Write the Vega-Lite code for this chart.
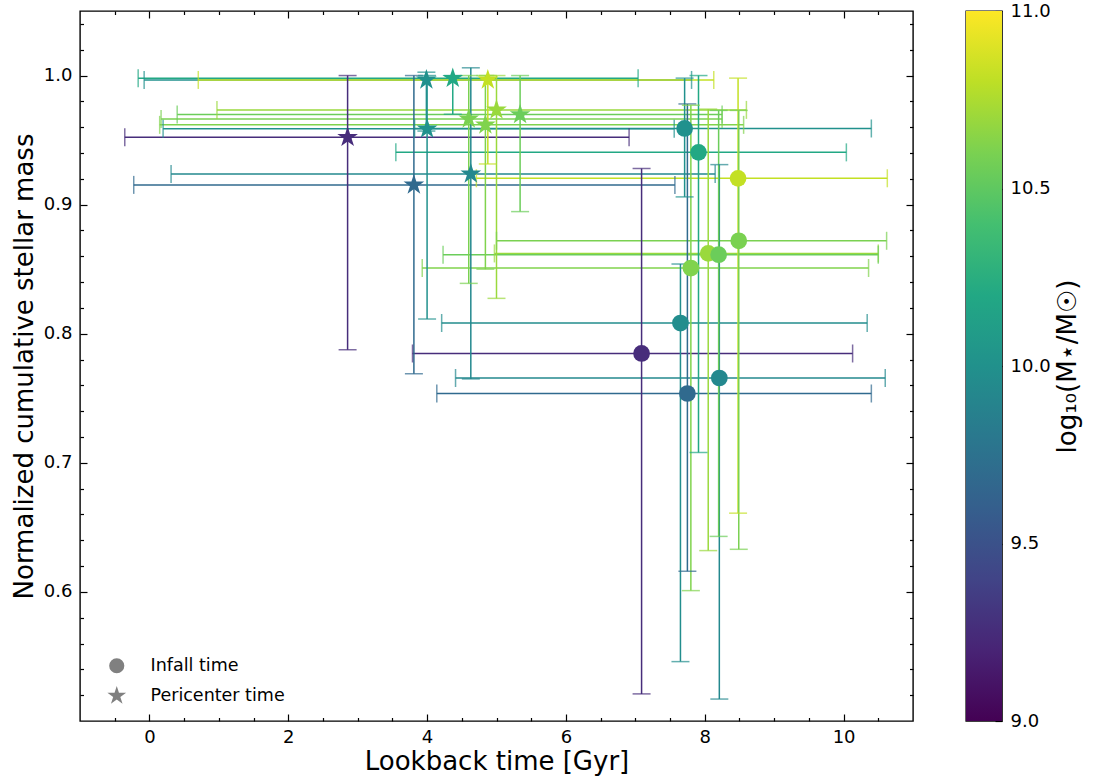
{
  "$schema": "https://vega.github.io/schema/vega-lite/v6.json",
  "padding": {"left": 10, "top": 1, "right": 5, "bottom": 5},
  "background": "white",
  "config": {
    "view": {"stroke": "black", "strokeWidth": 1.4},
    "font": "DejaVu Sans",
    "axis": {
      "labelFont": "DejaVu Sans", "titleFont": "DejaVu Sans",
      "labelFontSize": 18, "titleFontSize": 26, "titleFontWeight": "normal",
      "labelColor": "black", "titleColor": "black", "tickColor": "black",
      "tickWidth": 1.2, "domain": false, "grid": false,
      "labelOverlap": false, "labelFlush": false, "labelBound": false
    }
  },
  "datasets": {
    "sats": [
      {"kind": "Infall time", "t": 7.71, "m": 0.959, "tlo": 3.82, "thi": 10.40, "mlo": 0.906, "mhi": 0.998, "logm": 10.0},
      {"kind": "Infall time", "t": 7.91, "m": 0.9405, "tlo": 3.55, "thi": 10.04, "mlo": 0.708, "mhi": 1.0, "logm": 10.2},
      {"kind": "Infall time", "t": 8.48, "m": 0.9204, "tlo": 4.71, "thi": 10.63, "mlo": 0.661, "mhi": 0.998, "logm": 10.82},
      {"kind": "Infall time", "t": 7.09, "m": 0.7847, "tlo": 3.79, "thi": 10.13, "mlo": 0.521, "mhi": 0.928, "logm": 9.25},
      {"kind": "Infall time", "t": 7.65, "m": 0.8083, "tlo": 4.21, "thi": 10.34, "mlo": 0.546, "mhi": 0.854, "logm": 9.97},
      {"kind": "Infall time", "t": 8.21, "m": 0.7657, "tlo": 4.41, "thi": 10.60, "mlo": 0.517, "mhi": 0.931, "logm": 9.93},
      {"kind": "Infall time", "t": 7.75, "m": 0.7537, "tlo": 4.14, "thi": 10.40, "mlo": 0.616, "mhi": 0.978, "logm": 9.68},
      {"kind": "Infall time", "t": 7.80, "m": 0.8509, "tlo": 3.93, "thi": 10.36, "mlo": 0.601, "mhi": 0.977, "logm": 10.62},
      {"kind": "Infall time", "t": 8.05, "m": 0.8622, "tlo": 4.97, "thi": 10.50, "mlo": 0.632, "mhi": 0.974, "logm": 10.7},
      {"kind": "Infall time", "t": 8.20, "m": 0.8612, "tlo": 4.23, "thi": 10.50, "mlo": 0.643, "mhi": 0.973, "logm": 10.55},
      {"kind": "Infall time", "t": 8.49, "m": 0.872, "tlo": 5.00, "thi": 10.62, "mlo": 0.633, "mhi": 0.973, "logm": 10.6},
      {"kind": "Pericenter time", "t": 2.855, "m": 0.9522, "tlo": -0.355, "thi": 6.91, "mlo": 0.7876, "mhi": 1.0, "logm": 9.25},
      {"kind": "Pericenter time", "t": 3.81, "m": 0.9153, "tlo": -0.226, "thi": 7.57, "mlo": 0.769, "mhi": 1.0, "logm": 9.68},
      {"kind": "Pericenter time", "t": 3.99, "m": 0.9966, "tlo": -0.076, "thi": 7.81, "mlo": 0.957, "mhi": 1.0026, "logm": 10.0},
      {"kind": "Pericenter time", "t": 4.37, "m": 0.9979, "tlo": -0.162, "thi": 7.04, "mlo": 0.970, "mhi": 1.0, "logm": 10.2},
      {"kind": "Pericenter time", "t": 4.875, "m": 0.9966, "tlo": 0.704, "thi": 8.13, "mlo": 0.9315, "mhi": 1.0, "logm": 10.82},
      {"kind": "Pericenter time", "t": 4.00, "m": 0.9587, "tlo": 0.197, "thi": 7.56, "mlo": 0.8114, "mhi": 1.0, "logm": 10.0},
      {"kind": "Pericenter time", "t": 4.63, "m": 0.9238, "tlo": 0.312, "thi": 8.15, "mlo": 0.765, "mhi": 1.006, "logm": 9.93},
      {"kind": "Pericenter time", "t": 4.60, "m": 0.9664, "tlo": 0.168, "thi": 8.25, "mlo": 0.839, "mhi": 1.0, "logm": 10.6},
      {"kind": "Pericenter time", "t": 4.84, "m": 0.9618, "tlo": 0.148, "thi": 8.56, "mlo": 0.850, "mhi": 1.0, "logm": 10.62},
      {"kind": "Pericenter time", "t": 5.00, "m": 0.9734, "tlo": 0.973, "thi": 8.6, "mlo": 0.8274, "mhi": 1.0, "logm": 10.7},
      {"kind": "Pericenter time", "t": 5.34, "m": 0.9698, "tlo": 0.40, "thi": 8.25, "mlo": 0.8946, "mhi": 1.0, "logm": 10.55}
    ],
    "cbar": [
      {"lo": 9, "hi": 11, "x0": 0, "x1": 1}
    ]
  },
  "hconcat": [
    {
      "width": 833,
      "height": 710,
      "data": {"name": "sats"},
      "layer": [
        {
          "mark": {"type": "rule", "strokeWidth": 1.5},
          "encoding": {
            "x": {
              "field": "tlo", "type": "quantitative",
              "scale": {"domain": [-1, 11], "nice": false, "zero": false},
              "axis": {
                "orient": "bottom", "title": "Lookback time [Gyr]",
                "values": [0, 2, 4, 6, 8, 10], "format": "d",
                "tickSize": -7, "labelPadding": 14, "titlePadding": 2
              }
            },
            "x2": {"field": "thi"},
            "y": {
              "field": "m", "type": "quantitative",
              "scale": {"domain": [0.5, 1.05], "nice": false, "zero": false},
              "axis": {
                "orient": "left", "title": "Normalized cumulative stellar mass",
                "values": [0.6, 0.7, 0.8, 0.9, 1.0], "format": ".1f",
                "tickSize": -7, "labelPadding": 15, "titlePadding": 6
              }
            },
            "color": {
              "field": "logm", "type": "quantitative",
              "scale": {"scheme": "viridis", "domain": [9, 11]},
              "legend": null
            }
          }
        },
        {
          "mark": {"type": "rule", "strokeWidth": 1.5},
          "encoding": {
            "x": {
              "field": "t", "type": "quantitative",
              "axis": {"orient": "top", "title": null, "labels": false, "values": [0, 2, 4, 6, 8, 10], "tickSize": -7}
            },
            "y": {
              "field": "mlo", "type": "quantitative",
              "axis": {"orient": "right", "title": null, "labels": false, "values": [0.6, 0.7, 0.8, 0.9, 1.0], "tickSize": -7}
            },
            "y2": {"field": "mhi"},
            "color": {"field": "logm", "type": "quantitative", "legend": null}
          }
        },
        {
          "mark": {"type": "tick", "orient": "vertical", "size": 18, "thickness": 1.5},
          "encoding": {
            "x": {
              "field": "tlo", "type": "quantitative",
              "axis": {"orient": "bottom", "title": null, "labels": false, "tickSize": -3.5,
                "values": [-0.5, 0.5, 1, 1.5, 2.5, 3, 3.5, 4.5, 5, 5.5, 6.5, 7, 7.5, 8.5, 9, 9.5, 10.5]}
            },
            "y": {
              "field": "m", "type": "quantitative",
              "axis": {"orient": "left", "title": null, "labels": false, "tickSize": -3.5,
                "values": [0.52, 0.54, 0.56, 0.58, 0.62, 0.64, 0.66, 0.68, 0.72, 0.74, 0.76, 0.78, 0.82, 0.84, 0.86, 0.88, 0.92, 0.94, 0.96, 0.98, 1.02, 1.04]}
            },
            "color": {"field": "logm", "type": "quantitative", "legend": null}
          }
        },
        {
          "mark": {"type": "tick", "orient": "vertical", "size": 18, "thickness": 1.5},
          "encoding": {
            "x": {
              "field": "thi", "type": "quantitative",
              "axis": {"orient": "top", "title": null, "labels": false, "tickSize": -3.5,
                "values": [-0.5, 0.5, 1, 1.5, 2.5, 3, 3.5, 4.5, 5, 5.5, 6.5, 7, 7.5, 8.5, 9, 9.5, 10.5]}
            },
            "y": {
              "field": "m", "type": "quantitative",
              "axis": {"orient": "right", "title": null, "labels": false, "tickSize": -3.5,
                "values": [0.52, 0.54, 0.56, 0.58, 0.62, 0.64, 0.66, 0.68, 0.72, 0.74, 0.76, 0.78, 0.82, 0.84, 0.86, 0.88, 0.92, 0.94, 0.96, 0.98, 1.02, 1.04]}
            },
            "color": {"field": "logm", "type": "quantitative", "legend": null}
          }
        },
        {
          "mark": {"type": "tick", "orient": "horizontal", "size": 18, "thickness": 1.5},
          "encoding": {
            "x": {"field": "t", "type": "quantitative", "axis": null},
            "y": {"field": "mlo", "type": "quantitative", "axis": null},
            "color": {"field": "logm", "type": "quantitative", "legend": null}
          }
        },
        {
          "mark": {"type": "tick", "orient": "horizontal", "size": 18, "thickness": 1.5},
          "encoding": {
            "x": {"field": "t", "type": "quantitative", "axis": null},
            "y": {"field": "mhi", "type": "quantitative", "axis": null},
            "color": {"field": "logm", "type": "quantitative", "legend": null}
          }
        },
        {
          "mark": {"type": "point", "filled": true, "opacity": 1, "strokeWidth": 0, "size": 280},
          "encoding": {
            "x": {"field": "t", "type": "quantitative", "axis": null},
            "y": {"field": "m", "type": "quantitative", "axis": null},
            "color": {"field": "logm", "type": "quantitative", "legend": null},
            "shape": {
              "field": "kind", "type": "nominal",
              "scale": {"domain": ["Infall time", "Pericenter time"], "range": ["circle", "M0,-1.3L0.2919,-0.4017L1.2364,-0.4017L0.4723,0.1535L0.7641,1.0517L0,0.4966L-0.7641,1.0517L-0.4723,0.1535L-1.2364,-0.4017L-0.2919,-0.4017Z"]},
              "legend": {
                "title": null, "orient": "none", "legendX": 28, "legendY": 646,
                "symbolFillColor": "#808080", "symbolStrokeColor": "#808080", "symbolStrokeWidth": 0,
                "symbolSize": 230, "symbolOpacity": 1,
                "labelFont": "DejaVu Sans", "labelFontSize": 17.5, "labelColor": "black",
                "labelOffset": 25, "rowPadding": 10, "padding": 0
              }
            }
          }
        }
      ],
      "resolve": {"axis": {"x": "independent", "y": "independent"}}
    },
    {
      "width": 36,
      "height": 710,
      "data": {"name": "cbar"},
      "mark": {
        "type": "rect",
        "color": {
          "gradient": "linear", "x1": 0, "y1": 1, "x2": 0, "y2": 0,
          "stops": [
            {"offset": 0.0, "color": "#440154"},
            {"offset": 0.1, "color": "#482475"},
            {"offset": 0.2, "color": "#414487"},
            {"offset": 0.3, "color": "#355f8d"},
            {"offset": 0.4, "color": "#2a788e"},
            {"offset": 0.5, "color": "#21918c"},
            {"offset": 0.6, "color": "#22a884"},
            {"offset": 0.7, "color": "#44bf70"},
            {"offset": 0.8, "color": "#7ad151"},
            {"offset": 0.9, "color": "#bddf26"},
            {"offset": 1.0, "color": "#fde725"}
          ]
        }
      },
      "encoding": {
        "x": {"field": "x0", "type": "quantitative", "scale": {"domain": [0, 1], "nice": false, "zero": false}, "axis": null},
        "x2": {"field": "x1"},
        "y": {
          "field": "lo", "type": "quantitative",
          "scale": {"domain": [9, 11], "nice": false, "zero": false},
          "axis": {
            "orient": "right", "values": [9, 9.5, 10, 10.5, 11], "format": ".1f",
            "tickSize": -7, "labelPadding": 15,
            "title": "log₁₀(M⋆/M☉)", "titleAngle": 270, "titleBaseline": "top", "titlePadding": 4
          }
        },
        "y2": {"field": "hi"}
      }
    }
  ],
  "spacing": 53,
  "bounds": "flush"
}
